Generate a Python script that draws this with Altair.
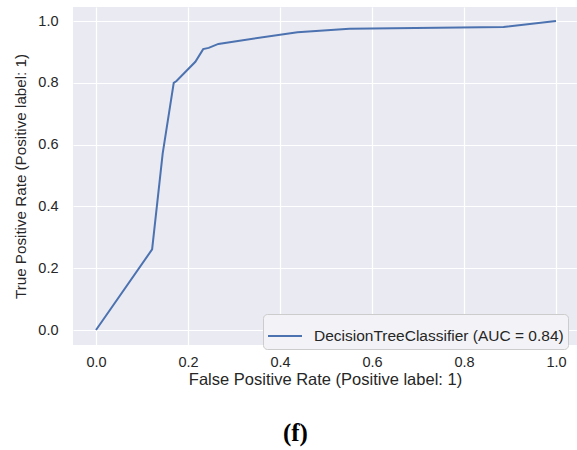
import altair as alt
import pandas as pd

fpr = [0.0, 0.122, 0.145, 0.169, 0.175, 0.216, 0.233, 0.245, 0.266, 0.438, 0.551, 0.886, 1.0]
tpr = [0.0, 0.261, 0.572, 0.800, 0.806, 0.868, 0.909, 0.913, 0.926, 0.964, 0.975, 0.981, 1.0]
series_name = "DecisionTreeClassifier (AUC = 0.84)"
x_ticks = [0.0, 0.2, 0.4, 0.6, 0.8, 1.0]
y_ticks = [0.0, 0.2, 0.4, 0.6, 0.8, 1.0]

df = pd.DataFrame({"fpr": fpr, "tpr": tpr, "order": list(range(len(fpr))),
                   "series": [series_name] * len(fpr)})

FONT = "Liberation Sans"
TXT = "#262626"

chart = alt.Chart(df).mark_line(strokeWidth=2, clip=True).encode(
    x=alt.X("fpr:Q", scale=alt.Scale(domain=[-0.05, 1.0457], nice=False, zero=False),
            axis=alt.Axis(values=x_ticks, format=".1f", title="False Positive Rate (Positive label: 1)",
                          labelPadding=10, titlePadding=3)),
    y=alt.Y("tpr:Q", scale=alt.Scale(domain=[-0.0485, 1.0454], nice=False, zero=False),
            axis=alt.Axis(values=y_ticks, format=".1f", title="True Positive Rate (Positive label: 1)",
                          labelPadding=15, titlePadding=9, titleFontSize=15.2)),
    order="order:Q",
    color=alt.Color("series:N", scale=alt.Scale(range=["#4C72B0"]),
                    legend=alt.Legend(title=None, orient="none", legendX=190, legendY=307,
                                      symbolType="stroke", symbolSize=1156, symbolStrokeWidth=2,
                                      labelFontSize=15.5, labelFont=FONT, labelColor=TXT,
                                      labelLimit=0, labelOffset=11, padding=4,
                                      fillColor="#F3F3F7", strokeColor="#CCCCCC",
                                      cornerRadius=4)),
).properties(
    width=504, height=338,
    background="#FFFFFF",
    autosize=alt.AutoSizeParams(type="none"),
    padding={"left": 73, "top": 7, "right": 0, "bottom": 105},
    title=alt.TitleParams("(f)", orient="bottom", anchor="middle", frame="bounds",
                          font="Liberation Serif", fontSize=25, fontWeight="bold",
                          color="#000000", offset=33),
).configure_view(
    fill="#EAEAF2", stroke=None
).configure_axis(
    grid=True, gridColor="#FFFFFF", gridWidth=1.2, domain=False, ticks=False,
    labelFont=FONT, labelFontSize=14.5, labelColor=TXT,
    titleFont=FONT, titleFontSize=16.5, titleColor=TXT, titleFontWeight="normal",
)

chart.save("out.html", embed_options={"renderer": "svg", "actions": False})
